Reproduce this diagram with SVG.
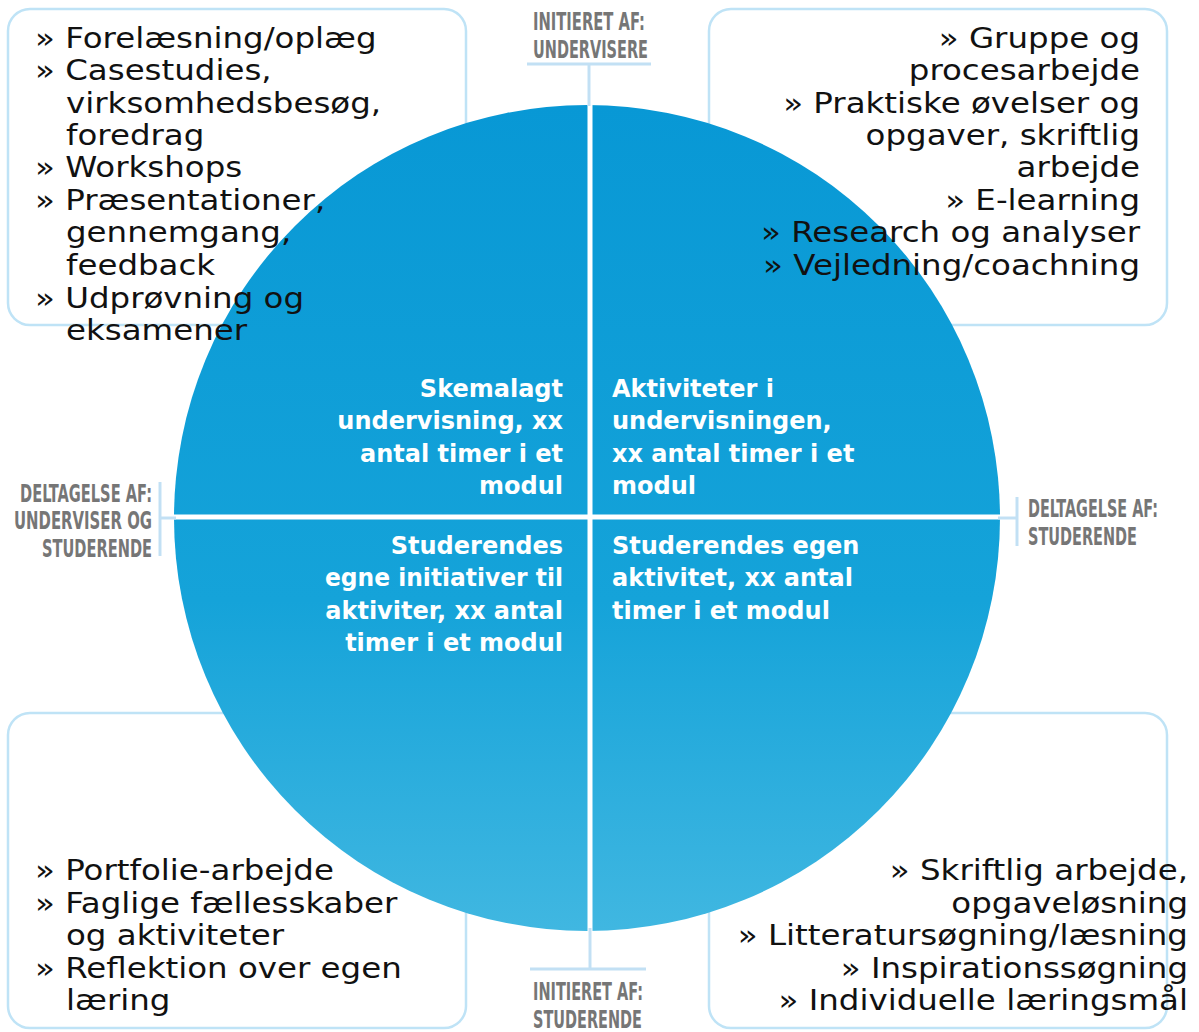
<svg xmlns="http://www.w3.org/2000/svg" width="1199" height="1032" viewBox="0 0 1199 1032">
<style>
.box{fill:#fff;stroke:#bfe3f6;stroke-width:2.5}
.lst{font-family:"DejaVu Sans",Verdana,sans-serif;font-size:29px;fill:#111}
.r{text-anchor:end}
.in{font-family:"DejaVu Sans",Verdana,sans-serif;font-size:24px;font-weight:bold;fill:#fff}
.ax{font-family:"DejaVu Sans Condensed","DejaVu Sans",sans-serif;font-size:24px;font-weight:bold;fill:#767676}
.tick{stroke:#c2e0f4;stroke-width:3;fill:none}
.cross{stroke:#fff;stroke-width:5}
</style>
<defs>
<linearGradient id="cg" x1="0" y1="0" x2="0" y2="1">
<stop offset="0" stop-color="#0898d5"/>
<stop offset="0.6" stop-color="#15a3d9"/>
<stop offset="1" stop-color="#40b7e1"/>
</linearGradient>
</defs>
<rect width="1199" height="1032" fill="#fff"/>
<g id="box-tl"><rect class="box" x="8" y="9" width="458" height="316" rx="22"/></g>
<g id="box-tr"><rect class="box" x="709" y="9" width="458" height="316" rx="22"/></g>
<g id="box-bl"><rect class="box" x="8" y="713" width="458" height="315" rx="22"/></g>
<g id="box-br"><rect class="box" x="709" y="713" width="458" height="315" rx="22"/></g>
<g id="circle">
<circle cx="587" cy="518" r="413" fill="url(#cg)"/>
<line class="cross" x1="590" y1="100" x2="590" y2="935"/>
<line class="cross" x1="170" y1="517" x2="1005" y2="517"/>
</g>
<g id="connectors">
<line class="tick" x1="527" y1="64" x2="651" y2="64"/>
<line class="tick" x1="589" y1="64" x2="589" y2="106"/>
<line class="tick" x1="530" y1="969" x2="646" y2="969"/>
<line class="tick" x1="590" y1="928" x2="590" y2="969"/>
<line class="tick" x1="160" y1="482" x2="160" y2="556"/>
<line class="tick" x1="160" y1="518" x2="176" y2="518"/>
<line class="tick" x1="1017" y1="497" x2="1017" y2="546"/>
<line class="tick" x1="998" y1="518" x2="1017" y2="518"/>
</g>
<g id="list-tl" class="lst" transform="matrix(1.12,0,0,1,-4.2,0)">
<text x="35" y="48">» Forelæsning/oplæg</text>
<text x="35" y="80">» Casestudies,</text>
<text x="62.7" y="113">virksomhedsbesøg,</text>
<text x="62.7" y="145">foredrag</text>
<text x="35" y="177">» Workshops</text>
<text x="35" y="210">» Præsentationer,</text>
<text x="62.7" y="242">gennemgang,</text>
<text x="62.7" y="275">feedback</text>
<text x="35" y="308">» Udprøvning og</text>
<text x="62.7" y="340">eksamener</text>
</g>
<g id="list-tr" class="lst r" transform="matrix(1.12,0,0,1,-136.8,0)">
<text x="1140" y="48">» Gruppe og</text>
<text x="1140" y="80">procesarbejde</text>
<text x="1140" y="113">» Praktiske øvelser og</text>
<text x="1140" y="145">opgaver, skriftlig</text>
<text x="1140" y="177">arbejde</text>
<text x="1140" y="210">» E-learning</text>
<text x="1140" y="242">» Research og analyser</text>
<text x="1140" y="275">» Vejledning/coachning</text>
</g>
<g id="list-bl" class="lst" transform="matrix(1.12,0,0,1,-4.2,0)">
<text x="35" y="880">» Portfolie-arbejde</text>
<text x="35" y="913">» Faglige fællesskaber</text>
<text x="62.7" y="945">og aktiviteter</text>
<text x="35" y="978">» Reflektion over egen</text>
<text x="62.7" y="1010">læring</text>
</g>
<g id="list-br" class="lst r" transform="matrix(1.12,0,0,1,-142.56,0)">
<text x="1188" y="880">» Skriftlig arbejde,</text>
<text x="1188" y="913">opgaveløsning</text>
<text x="1188" y="945">» Litteratursøgning/læsning</text>
<text x="1188" y="978">» Inspirationssøgning</text>
<text x="1188" y="1010">» Individuelle læringsmål</text>
</g>
<g id="q-tl" class="in r">
<text x="563" y="397">Skemalagt</text>
<text x="563" y="429">undervisning, xx</text>
<text x="563" y="462">antal timer i et</text>
<text x="563" y="494">modul</text>
</g>
<g id="q-tr" class="in">
<text x="612" y="397">Aktiviteter i</text>
<text x="612" y="429">undervisningen,</text>
<text x="612" y="462">xx antal timer i et</text>
<text x="612" y="494">modul</text>
</g>
<g id="q-bl" class="in r">
<text x="563" y="554">Studerendes</text>
<text x="563" y="586" textLength="238" lengthAdjust="spacingAndGlyphs">egne initiativer til</text>
<text x="563" y="619">aktiviter, xx antal</text>
<text x="563" y="651">timer i et modul</text>
</g>
<g id="q-br" class="in">
<text x="612" y="554">Studerendes egen</text>
<text x="612" y="586">aktivitet, xx antal</text>
<text x="612" y="619">timer i et modul</text>
</g>
<g id="axis-top" class="ax">
<text transform="translate(533,30) scale(0.62,1)" textLength="180.6" lengthAdjust="spacingAndGlyphs">INITIERET AF:</text>
<text transform="translate(533,58) scale(0.62,1)" textLength="185.5" lengthAdjust="spacingAndGlyphs">UNDERVISERE</text>
</g>
<g id="axis-bottom" class="ax">
<text transform="translate(533,1000) scale(0.62,1)" textLength="177.4" lengthAdjust="spacingAndGlyphs">INITIERET AF:</text>
<text transform="translate(533,1028) scale(0.62,1)" textLength="175.8" lengthAdjust="spacingAndGlyphs">STUDERENDE</text>
</g>
<g id="axis-left" class="ax">
<text transform="translate(20,502) scale(0.62,1)" textLength="212.9" lengthAdjust="spacingAndGlyphs">DELTAGELSE AF:</text>
<text transform="translate(14,529) scale(0.62,1)" textLength="222.6" lengthAdjust="spacingAndGlyphs">UNDERVISER OG</text>
<text transform="translate(42,557) scale(0.62,1)" textLength="177.4" lengthAdjust="spacingAndGlyphs">STUDERENDE</text>
</g>
<g id="axis-right" class="ax">
<text transform="translate(1028,517) scale(0.62,1)" textLength="209.7" lengthAdjust="spacingAndGlyphs">DELTAGELSE AF:</text>
<text transform="translate(1028,545) scale(0.62,1)" textLength="175.8" lengthAdjust="spacingAndGlyphs">STUDERENDE</text>
</g>
</svg>
